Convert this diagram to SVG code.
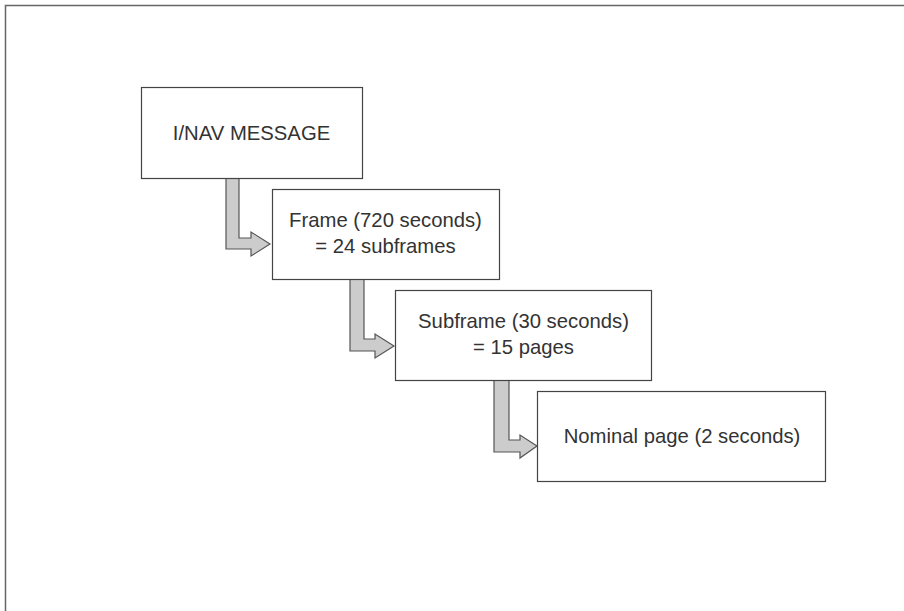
<svg xmlns="http://www.w3.org/2000/svg" width="904" height="611" viewBox="0 0 904 611">
<style>
.box{fill:#fff;stroke:#444;stroke-width:1.2}
.arr{fill:#cccccc;stroke:#555;stroke-width:1.2;stroke-linejoin:miter}
text{font-family:"Liberation Sans",Arial,sans-serif;font-size:20.3px;fill:#333;text-anchor:middle}
</style>
<rect x="0" y="0" width="904" height="611" fill="#fff"/>
<rect x="5.5" y="5.5" width="1000" height="1000" fill="none" stroke="#666" stroke-width="1.5"/>
<g id="connectors">
<path class="arr" d="M226,178.5 L239,178.5 L239,238 L251,238 L251,232 L270,244 L251,256 L251,249 L226,249 Z"/>
<path class="arr" d="M350,279.5 L364,279.5 L364,339 L375,339 L375,334 L394,346 L375,358 L375,351 L350,351 Z"/>
<path class="arr" d="M494,380.5 L509,380.5 L509,440 L520,440 L520,435 L537,446 L520,458 L520,452 L494,452 Z"/>
</g>
<g id="inav">
<rect class="box" x="141.5" y="87.5" width="221" height="91"/>
<text x="251.5" y="139.7">I/NAV MESSAGE</text>
</g>
<g id="frame">
<rect class="box" x="272.5" y="189.5" width="227" height="90"/>
<text x="385.5" y="226.7">Frame (720 seconds)</text>
<text x="385.5" y="253.3">= 24 subframes</text>
</g>
<g id="subframe">
<rect class="box" x="395.5" y="290.5" width="256" height="90"/>
<text x="523.5" y="327.7">Subframe (30 seconds)</text>
<text x="523.5" y="354.3">= 15 pages</text>
</g>
<g id="page">
<rect class="box" x="537.5" y="391.5" width="288" height="90"/>
<text x="682" y="443.3">Nominal page (2 seconds)</text>
</g>
</svg>
